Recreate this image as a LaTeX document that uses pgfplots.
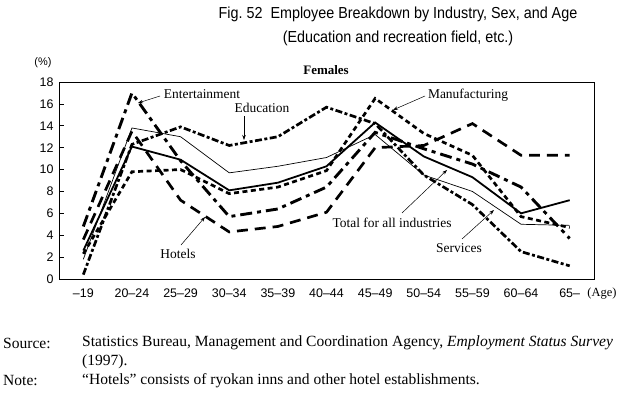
\documentclass[border=0pt]{standalone}
\usepackage{fontspec}
\setmainfont{Liberation Serif}
\setsansfont{Liberation Sans}
\usepackage{graphicx}
\usepackage{pgfplots}
\pgfplotsset{compat=1.18}
\usetikzlibrary{arrows.meta}

\pgfplotstableread{
x ent hot tot ser man edu
0  4.8 3.6  2.6  1.8  2.3  0.4
1 17.0 13.5 12.1 13.8  9.8 12.3
2 10.8 7.2 10.9 13.0 10.0 13.9
3  5.7 4.3  8.1  9.7  7.8 12.2
4  6.4 4.8  8.8 10.3  8.4 13.0
5  8.4 6.1 10.3 11.1  9.9 15.7
6 13.4 12.0 14.3 13.2 16.5 14.2
7 11.9 12.2 11.2  9.5 13.3  9.5
8 10.5 14.2  9.3  8.0 11.3  6.8
9  8.4 11.3  6.0  5.0  5.7  2.5
10 3.7 11.3  7.2  4.9  4.7  1.2
}\data

\begin{document}
\begin{tikzpicture}[x=1bp,y=1bp]
\useasboundingbox (0,0) rectangle (626,395);
\begin{axis}[
  at={(59bp,116bp)}, anchor=south west,
  scale only axis, width=535bp, height=197bp,
  xmin=-0.5, xmax=10.5, ymin=0, ymax=18,
  ytick={0,2,...,18}, xtick={0,...,10},
  xticklabels={–19,20–24,25–29,30–34,35–39,40–44,45–49,50–54,55–59,60–64,65–},
  ytick pos=left, tick align=inside,
  major tick length=5bp,
  xtick style={draw=none},
  tick style={line width=0.6pt, black},
  axis line style={line width=0.8pt},
  /pgf/number format/assume math mode=true,
  tick label style={font=\sffamily\fontsize{12.5}{12.5}\selectfont},
  xticklabel style={yshift=-6bp},
  yticklabel style={xshift=-2bp},
  clip=false,
]
\addplot[black, line width=2.9pt, dash pattern=on 12pt off 5pt on 4pt off 5pt] table[x=x,y=ent]{\data};
\addplot[black, line width=2.7pt, dash pattern=on 11pt off 7pt] table[x=x,y=hot]{\data};
\addplot[black, line width=1.8pt] table[x=x,y=tot]{\data};
\addplot[black, line width=0.7pt] table[x=x,y=ser]{\data};
\addplot[black, line width=2.7pt, dash pattern=on 5pt off 3.5pt] table[x=x,y=man]{\data};
\addplot[black, line width=2.7pt, dash pattern=on 7pt off 2.5pt on 3pt off 2.5pt] table[x=x,y=edu]{\data};
\end{axis}
\begin{scope}[shift={(0,395)}, yscale=-1]
\node[font=\sffamily\fontsize{16}{18}\selectfont] at (398,14) {\scalebox{0.9}[1]{Fig.~52\ \ Employee Breakdown by Industry, Sex, and Age}};
\node[font=\sffamily\fontsize{16}{18}\selectfont] at (398,38) {\scalebox{0.9}[1]{(Education and recreation field, etc.)}};
\node[font=\sffamily\fontsize{11}{12}\selectfont] at (43,63) {(\%)};
\node[font=\bfseries\fontsize{13}{14}\selectfont] at (326,70) {Females};
\node[font=\fontsize{12.5}{14}\selectfont] at (602,294) {(Age)};
\begin{scope}[font=\fontsize{13.5}{15}\selectfont]
\node at (202,94) {Entertainment};
\node at (262,108) {Education};
\node at (468,95) {Manufacturing};
\node at (392,223) {Total for all industries};
\node at (459,248) {Services};
\node at (178,254) {Hotels};
\end{scope}
\begin{scope}[line width=0.5pt, -{Stealth[length=5pt,width=3.5pt]}]
\draw (160,96) -- (138,103);
\draw (244,116) -- (244,140);
\draw (425,96) -- (393,110);
\draw (402,213) -- (447,170);
\draw (462,239) -- (494,210);
\draw (181,245) -- (205,217);
\end{scope}
\begin{scope}[font=\fontsize{15.6}{17}\selectfont]
\node[anchor=west, inner sep=0pt] at (3,343) {Source:};
\node[anchor=west, inner sep=0pt] at (82,343) {Statistics Bureau, Management and Coordination Agency, \textit{Employment Status Survey}};
\node[anchor=west, inner sep=0pt] at (82,362) {(1997).};
\node[anchor=west, inner sep=0pt] at (3,381) {Note:};
\node[anchor=west, inner sep=0pt] at (82,381) {“Hotels” consists of ryokan inns and other hotel establishments.};
\end{scope}
\end{scope}
\end{tikzpicture}
\end{document}
